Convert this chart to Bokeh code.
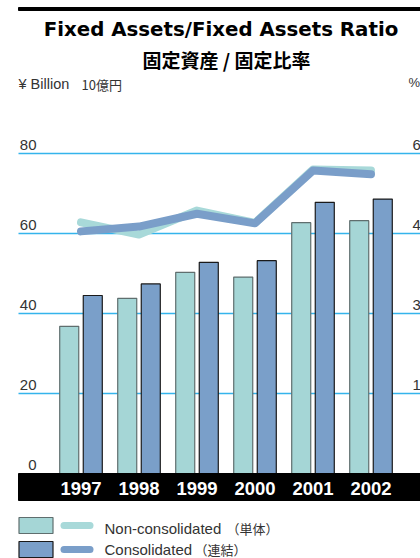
from bokeh.plotting import figure
from bokeh.models import Range1d, ColumnDataSource
from bokeh.transform import dodge
from bokeh.core.properties import value
from bokeh.embed import file_html
from bokeh.resources import INLINE

# ---------------- data ----------------
years = [1997, 1998, 1999, 2000, 2001, 2002]
year_labels = ["1997", "1998", "1999", "2000", "2001", "2002"]
assets_non = [36.8, 43.8, 50.3, 49.1, 62.7, 63.2]      # ¥ Billion (10億円)
assets_con = [44.5, 47.4, 52.8, 53.2, 67.8, 68.6]
ratio_non = [47.1, 44.8, 49.3, 47.0, 57.0, 56.8]       # %
ratio_con = [45.4, 46.3, 48.7, 46.9, 56.8, 56.1]
left_ticks = [0, 20, 40, 60, 80]
right_ticks = [15, 30, 45, 60]
right_tick_text = ["1", "3", "4", "6"]   # only the first digit shows at the cropped edge
title = "Fixed Assets/Fixed Assets Ratio"
subtitle = "固定資産 / 固定比率"
legend_non = ["Non-consolidated", "（単体）"]
legend_con = ["Consolidated", "（連結）"]

# ---------------- layout (page pixels) ----------------
W, H = 420, 558
PX_YEAR = 58.0
X0 = 1997 - 80.5 / PX_YEAR
PX_UNIT = 4.0
Y_TOP = 473 / PX_UNIT
PCT = 0.75


def fx(px):
    return X0 + px / PX_YEAR


def fy(py):
    return Y_TOP - py / PX_UNIT


FONT = value("Liberation Sans")
CJK = value("Noto Sans CJK JP")
C_NON = "#a5d6d6"
C_CON = "#7a9fc9"
C_LNON = "#a8d9d9"
C_LCON = "#7a9ec9"
C_GRID = "#34b4ec"
C_TXT = "#333333"
C_NON_EDGE = "#5f6e6e"
C_CON_EDGE = "#1a1a1a"

p = figure(width=W, height=H, x_range=Range1d(X0, X0 + W / PX_YEAR),
           y_range=Range1d(Y_TOP - H / PX_UNIT, Y_TOP),
           output_backend="svg", toolbar_location=None, min_border=0,
           x_axis_type=None, y_axis_type=None)
p.extra_y_ranges = {"pct": Range1d((Y_TOP - H / PX_UNIT) * PCT, Y_TOP * PCT)}
p.outline_line_color = None
p.background_fill_color = "white"
p.border_fill_color = "white"

src = ColumnDataSource(dict(year=years, label=year_labels, anon=assets_non,
                            acon=assets_con, rnon=ratio_non, rcon=ratio_con))

# top rule
p.quad(left=fx(18), right=fx(420), top=fy(7), bottom=fy(10), color="black")

# titles
p.text(x=[fx(220.5)], y=[fy(29)], text=[title], text_font=value("DejaVu Sans"),
       text_font_style="bold", text_font_size="19.8px", text_align="center",
       text_baseline="middle", text_color="black")
p.text(x=[fx(226)], y=[fy(58.5)], text=[subtitle], text_font=CJK, text_font_style="bold",
       text_font_size="19px", text_align="center", text_baseline="middle", text_color="black")
p.text(x=[fx(18)], y=[fy(83.5)], text=["¥ Billion"], text_font=FONT,
       text_font_size="14.5px", text_align="left", text_baseline="middle", text_color=C_TXT)
p.text(x=[fx(81)], y=[fy(83.5)], text=["10億円"], text_font=CJK,
       text_font_size="13px", text_align="left", text_baseline="middle", text_color=C_TXT)
p.text(x=[fx(408)], y=[fy(82)], text=["%"], text_font=FONT,
       text_font_size="13px", text_align="left", text_baseline="middle", text_color=C_TXT)

# gridlines
grid_ticks = [t for t in left_ticks if t > 0]
p.segment(x0=[fx(18)] * len(grid_ticks), x1=[fx(420)] * len(grid_ticks),
          y0=grid_ticks, y1=grid_ticks, line_color=C_GRID, line_width=1.5)

# tick labels
p.text(x=[fx(36)] * len(left_ticks), y=left_ticks, text=[str(t) for t in left_ticks],
       text_font=FONT, text_font_size="15px", text_align="right", text_baseline="middle",
       y_offset=-9, text_color=C_TXT)
p.text(x=[fx(412)] * len(right_ticks), y=right_ticks, text=right_tick_text,
       text_font=FONT, text_font_size="15px", text_align="left", text_baseline="middle",
       y_offset=-9, text_color=C_TXT, y_range_name="pct")

# bars
p.vbar(x=dodge("year", -0.203, range=p.x_range), top="anon", bottom=0, width=0.328,
       source=src, fill_color=C_NON, line_color=C_NON_EDGE, line_width=1.2)
p.vbar(x=dodge("year", 0.203, range=p.x_range), top="acon", bottom=0, width=0.328,
       source=src, fill_color=C_CON, line_color=C_CON_EDGE, line_width=1.2)

# bottom band with years
p.quad(left=fx(18), right=fx(420), top=0, bottom=fy(500), color="black")
p.text(x="year", y=fy(487.5), text="label", source=src, text_font=FONT,
       text_font_style="bold", text_font_size="18.5px", text_align="center",
       text_baseline="middle", text_color="white")

# ratio lines
p.line(x="year", y="rnon", source=src, y_range_name="pct", line_color=C_LNON, line_width=8,
       line_cap="round", line_join="round")
p.line(x="year", y="rcon", source=src, y_range_name="pct", line_color=C_LCON, line_width=8,
       line_cap="round", line_join="round")

# legend
rows = [(525, 527.5, 226, C_NON, C_NON_EDGE, C_LNON, legend_non),
        (549, 549.0, 194, C_CON, C_CON_EDGE, C_LCON, legend_con)]
for cy, ty, cjk_x, fc, lc, linec, lab in rows:
    p.quad(left=fx(18.5), right=fx(52.5), top=fy(cy - 8), bottom=fy(cy + 8),
           fill_color=fc, line_color=lc, line_width=1.2)
    p.segment(x0=[fx(63.5)], x1=[fx(89.5)], y0=[fy(cy)], y1=[fy(cy)], line_color=linec,
              line_width=7, line_cap="round")
    p.text(x=[fx(104)], y=[fy(ty)], text=[lab[0]], text_font=FONT, text_font_size="15px",
           text_align="left", text_baseline="middle", text_color=C_TXT)
    p.text(x=[fx(cjk_x)], y=[fy(ty)], text=[lab[1]], text_font=CJK, text_font_size="13px",
           text_align="left", text_baseline="middle", text_color=C_TXT)

open("out.html", "w").write(file_html(p, INLINE))
